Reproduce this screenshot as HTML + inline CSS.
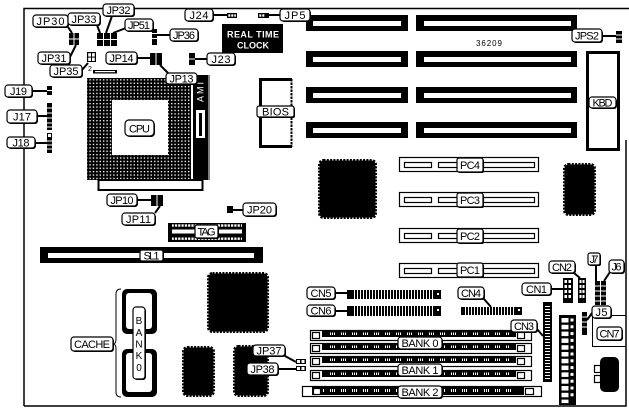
<!DOCTYPE html>
<html><head><meta charset="utf-8">
<style>
html,body{margin:0;padding:0;background:#fff;width:629px;height:409px;overflow:hidden}
svg{display:block}
text{font-family:"Liberation Sans",sans-serif}
.sh{fill:#000}
.lb{fill:#fff;stroke:#000;stroke-width:1.2}
.l{font-size:11px;text-anchor:middle;fill:#000}
.k{fill:#000}
.w{fill:#fff}
.ln{stroke:#000;stroke-width:2;fill:none}
.ol{fill:#fff;stroke:#000;stroke-width:1.2}
.chip{fill:#000;stroke:#000;stroke-width:3;stroke-dasharray:2 1.3}
</style></head><body>
<svg width="629" height="409" viewBox="0 0 629 409" xmlns="http://www.w3.org/2000/svg">
<defs>
<pattern id="pins" patternUnits="userSpaceOnUse" width="3.4" height="3.4"><rect x="1" y="1" width="1.4" height="1.3" fill="#fff"/></pattern>
<pattern id="vt" patternUnits="userSpaceOnUse" width="3" height="20"><rect x="0" y="0" width="1" height="20" fill="#fff"/></pattern>
<pattern id="ht" patternUnits="userSpaceOnUse" width="20" height="3"><rect x="0" y="0" width="20" height="1" fill="#fff"/></pattern>
<pattern id="wd" patternUnits="userSpaceOnUse" width="3.3" height="20"><rect x="0" y="0" width="2.2" height="20" fill="#fff"/></pattern>
<pattern id="sm" patternUnits="userSpaceOnUse" width="11" height="20"><rect x="0" y="0" width="1" height="20" fill="#fff"/><rect x="2" y="0" width="1" height="20" fill="#fff"/><rect x="4" y="0" width="1" height="20" fill="#fff"/></pattern>
</defs>

<!-- board outline -->
<path d="M24,406V8.5H629M626,140V406H24" fill="none" stroke="#000" stroke-width="1.5"/>

<!-- ISA slots -->
<g class="k">
<rect x="306" y="15" width="102" height="16"/><rect x="416" y="15" width="161" height="16"/>
<rect x="306" y="51" width="102" height="16"/><rect x="416" y="51" width="161" height="16"/>
<rect x="306" y="87" width="102" height="16"/><rect x="416" y="87" width="161" height="16"/>
<rect x="306" y="122" width="102" height="16"/><rect x="416" y="122" width="161" height="16"/>
</g>
<g class="w">
<rect x="313" y="21" width="88" height="5"/><rect x="424" y="21" width="147" height="5"/>
<rect x="313" y="57" width="88" height="5"/><rect x="424" y="57" width="147" height="5"/>
<rect x="313" y="93" width="88" height="5"/><rect x="424" y="93" width="147" height="5"/>
<rect x="313" y="128" width="88" height="5"/><rect x="424" y="128" width="147" height="5"/>
</g>
<text x="489" y="46" font-size="8" text-anchor="middle" textLength="26">36209</text>

<!-- KBD -->
<rect x="587.5" y="52.5" width="31" height="97" fill="none" stroke="#000" stroke-width="3"/>

<!-- Real time clock -->
<rect x="222" y="24" width="61" height="29" class="k"/>
<text x="253" y="37.5" font-size="9" font-weight="bold" fill="#fff" text-anchor="middle" textLength="52">REAL TIME</text>
<text x="253" y="48.5" font-size="9" font-weight="bold" fill="#fff" text-anchor="middle" textLength="32">CLOCK</text>

<!-- BIOS -->
<path d="M292,79.5H260.5V146.5H292" fill="none" stroke="#000" stroke-width="3"/>
<line x1="291.5" y1="79" x2="291.5" y2="147" stroke="#000" stroke-width="2" stroke-dasharray="2.5 1"/>

<!-- CPU socket -->
<rect x="93" y="70" width="24" height="3.5" class="k"/>
<rect x="95" y="71" width="20" height="1.2" class="w"/>
<rect x="87" y="78" width="104" height="102" class="k"/>
<rect x="87" y="78" width="104" height="102" fill="url(#pins)"/>
<rect x="112" y="100" width="56" height="55" class="w"/>
<rect x="98.5" y="180" width="104" height="10" fill="#fff" stroke="#000" stroke-width="2"/>
<rect x="193" y="75" width="15" height="105" class="k"/>
<line x1="209" y1="75" x2="209" y2="180" stroke="#000" stroke-width="1"/>
<text transform="translate(203.5,92) rotate(-90)" font-size="9" fill="#fff" text-anchor="middle" textLength="20">AMI</text>
<rect x="196" y="110" width="9" height="28" class="w"/>
<rect x="199" y="113" width="3" height="23" class="k"/>
<text x="88" y="71" font-size="7">2</text>

<!-- jumpers top-left -->
<rect x="69" y="33" width="10" height="12" class="k"/>
<path d="M74,33V45M69,39H79" stroke="#fff" stroke-width="1"/>
<rect x="97" y="33" width="20" height="13" class="k"/>
<path d="M103.5,33V46M110.5,33V46M97,39.5H117" stroke="#fff" stroke-width="1"/>
<rect x="152" y="29" width="5" height="16" class="k"/>
<path d="M152,33.5H157M152,38.5H157" stroke="#fff" stroke-width="1"/>
<rect x="87" y="52" width="9" height="10" class="k"/>
<g class="w"><rect x="88.2" y="53.2" width="2.8" height="3.4"/><rect x="92" y="53.2" width="2.8" height="3.4"/><rect x="88.2" y="57.6" width="2.8" height="3.4"/><rect x="92" y="57.6" width="2.8" height="3.4"/></g>
<rect x="150" y="53" width="12" height="12" class="k"/>
<line x1="156" y1="53" x2="156" y2="65" stroke="#fff" stroke-width="1"/>
<rect x="189" y="53" width="6" height="12" class="k"/>
<line x1="189" y1="59" x2="195" y2="59" stroke="#fff" stroke-width="1"/>
<rect x="227" y="13" width="10" height="5" class="k"/>
<g class="w"><rect x="228.3" y="14.3" width="2" height="2.4"/><rect x="231.3" y="14.3" width="2" height="2.4"/><rect x="234.3" y="14.3" width="1.6" height="2.4"/></g>
<rect x="258" y="13" width="11" height="5" class="k"/>
<g class="w"><rect x="259.3" y="14.3" width="2" height="2.4"/><rect x="262.3" y="14.3" width="2" height="2.4"/></g>
<rect x="616" y="31" width="6" height="12" class="k"/>
<path d="M616,35H622M616,39H622" stroke="#fff" stroke-width="1"/>
<rect x="47" y="86" width="5" height="9" class="k"/>
<line x1="47" y1="90.5" x2="52" y2="90.5" stroke="#fff" stroke-width="1"/>
<rect x="47" y="103" width="5" height="27" class="k"/>
<path d="M47,108H52M47,113H52M47,118H52M47,123H52M47,127H52" stroke="#fff" stroke-width="1"/>
<rect x="47" y="133" width="5" height="20" class="k"/>
<rect x="48" y="134" width="3" height="3" class="w"/>
<path d="M47,141H52M47,145H52M47,149H52" stroke="#fff" stroke-width="1"/>
<rect x="151" y="195" width="12" height="11" class="k"/>
<line x1="157" y1="195" x2="157" y2="206" stroke="#fff" stroke-width="1"/>
<rect x="227" y="206" width="6" height="7" class="k"/>
<rect x="296" y="359" width="10" height="5" class="k"/>
<rect x="296" y="366" width="10" height="5" class="k"/>
<g class="w"><rect x="297" y="360" width="3" height="3"/><rect x="301.5" y="360" width="3" height="3"/><rect x="297" y="367" width="3" height="3"/><rect x="301.5" y="367" width="3" height="3"/></g>

<!-- TAG -->
<rect x="168" y="223" width="78" height="19" class="k"/>
<rect x="172" y="224.3" width="70" height="2.4" fill="url(#wd)"/>
<rect x="172" y="237.5" width="70" height="2.4" fill="url(#wd)"/>
<rect x="172" y="229.5" width="70" height="4" class="w"/>

<!-- SL1 -->
<rect x="40" y="247" width="223" height="16" class="k"/>
<rect x="48" y="253" width="206" height="5" class="w"/>

<!-- big chips -->
<rect class="chip" x="319.5" y="160.5" width="56" height="57" rx="4"/>
<rect class="chip" x="564.5" y="164.5" width="30" height="50" rx="4"/>
<rect class="chip" x="208.5" y="273.5" width="59" height="58" rx="4"/>
<rect class="chip" x="183.5" y="347.5" width="30" height="48" rx="4"/>
<rect class="chip" x="234.5" y="346.5" width="33" height="49" rx="4"/>

<!-- PCI slots -->
<g>
<rect class="ol" x="399.5" y="157.5" width="139" height="14"/>
<rect class="ol" x="404.5" y="162.5" width="27" height="5"/><rect class="ol" x="438.5" y="162.5" width="19" height="5"/><rect class="ol" x="483.5" y="162.5" width="51" height="5"/>
<rect class="ol" x="399.5" y="192.5" width="139" height="14"/>
<rect class="ol" x="404.5" y="197.5" width="27" height="5"/><rect class="ol" x="438.5" y="197.5" width="19" height="5"/><rect class="ol" x="483.5" y="197.5" width="51" height="5"/>
<rect class="ol" x="399.5" y="228.5" width="139" height="14"/>
<rect class="ol" x="404.5" y="233.5" width="27" height="5"/><rect class="ol" x="438.5" y="233.5" width="19" height="5"/><rect class="ol" x="483.5" y="233.5" width="51" height="5"/>
<rect class="ol" x="399.5" y="263.5" width="139" height="14"/>
<rect class="ol" x="404.5" y="268.5" width="27" height="5"/><rect class="ol" x="438.5" y="268.5" width="19" height="5"/><rect class="ol" x="483.5" y="268.5" width="51" height="5"/>
</g>

<!-- cache -->
<rect x="122" y="289" width="35" height="45" rx="5" class="k"/>
<rect x="126" y="293" width="26" height="36" rx="3" class="w"/>
<rect x="122" y="349" width="35" height="48" rx="5" class="k"/>
<rect x="126" y="353" width="26" height="39" rx="3" class="w"/>
<path d="M121,289Q116,289 116,294V339Q116,344 113,344Q116,344 116,349V392Q116,397 121,397" fill="none" stroke="#000" stroke-width="1"/>
<rect x="134" y="308" width="12" height="72" rx="3" class="sh"/>
<rect x="133" y="307" width="12" height="72" rx="3" class="lb"/>
<g font-size="10" text-anchor="middle">
<text x="139" y="324">B</text><text x="139" y="336">A</text><text x="139" y="347.5">N</text><text x="139" y="359">K</text><text x="139" y="371">0</text>
</g>

<!-- CN5 / CN6 / CN4 -->
<rect x="347" y="290" width="94" height="9" class="k"/>
<rect x="354" y="290" width="80" height="9" fill="url(#vt)"/>
<rect x="437" y="293" width="2" height="2" class="w"/>
<rect x="347" y="306" width="94" height="10" class="k"/>
<rect x="354" y="306" width="80" height="10" fill="url(#vt)"/>
<rect x="437" y="309" width="2" height="2" class="w"/>
<rect x="461" y="307" width="61" height="8" class="k"/>
<rect x="464" y="307" width="50" height="8" fill="url(#vt)"/>
<rect x="518" y="309" width="2" height="2" class="w"/>

<!-- SIMM banks -->
<g>
<rect class="ol" x="310.5" y="330.5" width="221" height="10"/>
<rect x="322" y="331" width="194" height="6" class="k"/>
<rect x="330" y="332.5" width="180" height="2.5" fill="url(#sm)"/>
<rect class="ol" x="312.5" y="332.5" width="7" height="6"/><rect class="ol" x="517.5" y="332.5" width="7" height="6"/>
<rect class="ol" x="310.5" y="343.5" width="221" height="10"/>
<rect x="322" y="344" width="194" height="6" class="k"/>
<rect x="330" y="345.5" width="180" height="2.5" fill="url(#sm)"/>
<rect class="ol" x="312.5" y="345.5" width="7" height="6"/><rect class="ol" x="517.5" y="345.5" width="7" height="6"/>
<rect class="ol" x="310.5" y="356.5" width="221" height="10"/>
<rect x="322" y="357" width="194" height="6" class="k"/>
<rect x="330" y="358.5" width="180" height="2.5" fill="url(#sm)"/>
<rect class="ol" x="312.5" y="358.5" width="7" height="6"/><rect class="ol" x="517.5" y="358.5" width="7" height="6"/>
<rect class="ol" x="310.5" y="370.5" width="221" height="10"/>
<rect x="322" y="371" width="194" height="6" class="k"/>
<rect x="330" y="372.5" width="180" height="2.5" fill="url(#sm)"/>
<rect class="ol" x="312.5" y="372.5" width="7" height="6"/><rect class="ol" x="517.5" y="372.5" width="7" height="6"/>
<rect class="ol" x="302.5" y="386.5" width="239" height="10"/>
<rect x="312" y="387" width="212" height="8" class="k"/>
<rect x="322" y="389" width="190" height="3" fill="url(#sm)"/>
<rect class="ol" x="313.5" y="388.5" width="7" height="6"/><rect class="ol" x="525.5" y="388.5" width="8" height="6"/>
</g>

<!-- CN3 & vertical connector -->
<rect x="543" y="302" width="9" height="80" class="k"/>
<rect x="545" y="305" width="5" height="75" fill="url(#ht)"/>
<rect x="559" y="315" width="17" height="90" class="k"/>
<g class="w">
<rect x="561.5" y="318" width="7" height="4.5"/><rect x="570.5" y="318.5" width="3" height="3"/>
<rect x="561.5" y="324.8" width="7" height="4.5"/><rect x="570.5" y="325.3" width="3" height="3"/>
<rect x="561.5" y="331.6" width="7" height="4.5"/><rect x="570.5" y="332.1" width="3" height="3"/>
<rect x="561.5" y="338.4" width="7" height="4.5"/><rect x="570.5" y="338.9" width="3" height="3"/>
<rect x="561.5" y="345.2" width="7" height="4.5"/><rect x="570.5" y="345.7" width="3" height="3"/>
<rect x="561.5" y="352" width="7" height="4.5"/><rect x="570.5" y="352.5" width="3" height="3"/>
<rect x="561.5" y="358.8" width="7" height="4.5"/><rect x="570.5" y="359.3" width="3" height="3"/>
<rect x="561.5" y="365.6" width="7" height="4.5"/><rect x="570.5" y="366.1" width="3" height="3"/>
<rect x="561.5" y="372.4" width="7" height="4.5"/><rect x="570.5" y="372.9" width="3" height="3"/>
<rect x="561.5" y="379.2" width="7" height="4.5"/><rect x="570.5" y="379.7" width="3" height="3"/>
<rect x="561.5" y="386" width="7" height="4.5"/><rect x="570.5" y="386.5" width="3" height="3"/>
<rect x="561.5" y="392.8" width="7" height="4.5"/><rect x="570.5" y="393.3" width="3" height="3"/>
<rect x="561.5" y="399.6" width="7" height="3.5"/>
</g>

<!-- CN1 CN2 J7 J6 J5 -->
<rect x="563" y="278" width="10" height="25" class="k"/>
<rect x="578" y="278" width="8" height="25" class="k"/>
<g class="w">
<rect x="564.5" y="280" width="2.5" height="3"/><rect x="568.5" y="280" width="2.5" height="3"/>
<rect x="564.5" y="285" width="2.5" height="3"/><rect x="568.5" y="285" width="2.5" height="3"/>
<rect x="564.5" y="290" width="2.5" height="3"/><rect x="568.5" y="290" width="2.5" height="3"/>
<rect x="564.5" y="295" width="2.5" height="3"/><rect x="568.5" y="295" width="2.5" height="3"/>
<rect x="579.5" y="280" width="2" height="3"/><rect x="582.5" y="280" width="2" height="3"/>
<rect x="579.5" y="285" width="2" height="3"/><rect x="582.5" y="285" width="2" height="3"/>
<rect x="579.5" y="290" width="2" height="3"/><rect x="582.5" y="290" width="2" height="3"/>
<rect x="579.5" y="295" width="2" height="3"/><rect x="582.5" y="295" width="2" height="3"/>
</g>
<rect x="595" y="281" width="5" height="24" class="k"/>
<rect x="601" y="281" width="5" height="24" class="k"/>
<path d="M595,286H606M595,291H606M595,296H606M595,301H606" stroke="#fff" stroke-width="1"/>
<rect x="582" y="312" width="5" height="23" class="k"/>
<path d="M582,317H587M582,322H587M582,327H587" stroke="#fff" stroke-width="1"/>

<!-- CN7 area / DIN -->
<path d="M626,315.5H592.5V346.5H626" fill="none" stroke="#000" stroke-width="1"/>
<rect x="600" y="357" width="19" height="35" rx="5" class="k"/>
<rect class="ol" x="594.5" y="365.5" width="6" height="7"/>
<rect class="ol" x="594.5" y="375.5" width="6" height="7"/>

<!-- pointer lines -->
<path class="ln" d="M68,27L72,33M97,25L100,33M112,16L106,33M126,28L113,33M170,35H157M70,57L76,45M82,70L88,63M137,58H150M160,65L168,73M195,59H207M213,15H227M269,15H280M602,36H616M32,91H47M37,116H47M35,143H47M137,200H151M160,206L155,213M233,210H243M335,293H347M335,311H347M484,299L491,307M537,329L543,336M574,273L580,278M551,289H563M596,265V281M610,272L604,281M592,313L587,320M285,356L296,362M278,369H296"/>

<!-- labels -->
<g>
<rect class="sh" x="34" y="16" width="35" height="12" rx="3"/><rect class="lb" x="33" y="15" width="35" height="12" rx="3"/><text class="l" x="50.5" y="25" textLength="28">JP30</text>
<rect class="sh" x="69" y="14" width="32" height="12" rx="3"/><rect class="lb" x="68" y="13" width="32" height="12" rx="3"/><text class="l" x="84" y="23" textLength="25">JP33</text>
<rect class="sh" x="104" y="5" width="31" height="12" rx="3"/><rect class="lb" x="103" y="4" width="31" height="12" rx="3"/><text class="l" x="118.5" y="14" textLength="24">JP32</text>
<rect class="sh" x="126" y="20" width="28" height="12" rx="3"/><rect class="lb" x="125" y="19" width="28" height="12" rx="3"/><text class="l" x="139" y="29" textLength="22">JP51</text>
<rect class="sh" x="171" y="30" width="28" height="12" rx="3"/><rect class="lb" x="170" y="29" width="28" height="12" rx="3"/><text class="l" x="184" y="39" textLength="22">JP36</text>
<rect class="sh" x="39" y="53" width="32" height="12" rx="3"/><rect class="lb" x="38" y="52" width="32" height="12" rx="3"/><text class="l" x="54" y="62" textLength="25">JP31</text>
<rect class="sh" x="51" y="66" width="32" height="12" rx="3"/><rect class="lb" x="50" y="65" width="32" height="12" rx="3"/><text class="l" x="66" y="75" textLength="25">JP35</text>
<rect class="sh" x="107" y="53" width="31" height="12" rx="3"/><rect class="lb" x="106" y="52" width="31" height="12" rx="3"/><text class="l" x="121.5" y="62" textLength="24">JP14</text>
<rect class="sh" x="167" y="74" width="31" height="11" rx="3"/><rect class="lb" x="166" y="73" width="31" height="11" rx="3"/><text class="l" x="181.5" y="82.5" textLength="24">JP13</text>
<rect class="sh" x="208" y="54" width="28" height="12" rx="3"/><rect class="lb" x="207" y="53" width="28" height="12" rx="3"/><text class="l" x="221" y="63" textLength="19">J23</text>
<rect class="sh" x="186" y="10" width="28" height="12" rx="3"/><rect class="lb" x="185" y="9" width="28" height="12" rx="3"/><text class="l" x="199" y="19" textLength="19">J24</text>
<rect class="sh" x="281" y="10" width="30" height="12" rx="3"/><rect class="lb" x="280" y="9" width="30" height="12" rx="3"/><text class="l" x="295" y="19" textLength="21">JP5</text>
<rect class="sh" x="573" y="30" width="30" height="13" rx="3"/><rect class="lb" x="572" y="29" width="30" height="13" rx="3"/><text class="l" x="587" y="39.5" textLength="24">JPS2</text>
<rect class="sh" x="590" y="98" width="27" height="11" rx="3"/><rect class="lb" x="589" y="97" width="27" height="11" rx="3"/><text class="l" x="602.5" y="106.5" textLength="20">KBD</text>
<rect class="sh" x="126" y="121" width="29" height="16" rx="4"/><rect class="lb" x="125" y="120" width="29" height="16" rx="4"/><text class="l" x="139.5" y="132.5" font-size="12" textLength="21">CPU</text>
<rect class="sh" x="258" y="107" width="37" height="11" rx="2"/><rect class="lb" x="257" y="106" width="37" height="11" rx="2"/><text class="l" x="275.5" y="115.5" textLength="27">BIOS</text>
<rect class="sh" x="6" y="86" width="27" height="12" rx="3"/><rect class="lb" x="5" y="85" width="27" height="12" rx="3"/><text class="l" x="18.5" y="95" textLength="17">J19</text>
<rect class="sh" x="8" y="111" width="30" height="13" rx="3"/><rect class="lb" x="7" y="110" width="30" height="13" rx="3"/><text class="l" x="22" y="120.5" textLength="18">J17</text>
<rect class="sh" x="8" y="138" width="28" height="11" rx="3"/><rect class="lb" x="7" y="137" width="28" height="11" rx="3"/><text class="l" x="21" y="146.5" textLength="17">J18</text>
<rect class="sh" x="108" y="195" width="30" height="12" rx="3"/><rect class="lb" x="107" y="194" width="30" height="12" rx="3"/><text class="l" x="122" y="204" textLength="23">JP10</text>
<rect class="sh" x="123" y="214" width="33" height="12" rx="3"/><rect class="lb" x="122" y="213" width="33" height="12" rx="3"/><text class="l" x="138.5" y="223" textLength="25">JP11</text>
<rect class="sh" x="196" y="226" width="23" height="13" rx="2"/><rect class="lb" x="195" y="225" width="23" height="13" rx="2"/><text class="l" x="206.5" y="235.5" textLength="18">TAG</text>
<rect class="sh" x="244" y="204" width="33" height="13" rx="3"/><rect class="lb" x="243" y="203" width="33" height="13" rx="3"/><text class="l" x="259.5" y="213.5" textLength="25">JP20</text>
<rect class="sh" x="141" y="251" width="23" height="11" rx="2"/><rect class="lb" x="140" y="250" width="23" height="11" rx="2"/><text class="l" x="151.5" y="259.5" textLength="16">SL1</text>
<rect class="sh" x="72" y="338" width="42" height="14" rx="3"/><rect class="lb" x="71" y="337" width="42" height="14" rx="3"/><text class="l" x="92" y="348" textLength="36">CACHE</text>
<rect class="sh" x="308" y="288" width="28" height="12" rx="3"/><rect class="lb" x="307" y="287" width="28" height="12" rx="3"/><text class="l" x="321" y="297" textLength="21">CN5</text>
<rect class="sh" x="308" y="306" width="28" height="11" rx="3"/><rect class="lb" x="307" y="305" width="28" height="11" rx="3"/><text class="l" x="321" y="314.5" textLength="21">CN6</text>
<rect class="sh" x="459" y="288" width="26" height="12" rx="3"/><rect class="lb" x="458" y="287" width="26" height="12" rx="3"/><text class="l" x="471" y="297" textLength="20">CN4</text>
<rect class="sh" x="512" y="321" width="26" height="12" rx="3"/><rect class="lb" x="511" y="320" width="26" height="12" rx="3"/><text class="l" x="524" y="330" textLength="20">CN3</text>
<rect class="sh" x="550" y="262" width="26" height="12" rx="3"/><rect class="lb" x="549" y="261" width="26" height="12" rx="3"/><text class="l" x="562" y="271" textLength="20">CN2</text>
<rect class="sh" x="523" y="284" width="29" height="12" rx="3"/><rect class="lb" x="522" y="283" width="29" height="12" rx="3"/><text class="l" x="536.5" y="293" textLength="21">CN1</text>
<rect class="sh" x="589" y="254" width="12" height="12" rx="2"/><rect class="lb" x="588" y="253" width="12" height="12" rx="2"/><text class="l" x="594" y="263" font-size="10" textLength="9">J7</text>
<rect class="sh" x="610" y="261" width="15" height="13" rx="3"/><rect class="lb" x="609" y="260" width="15" height="13" rx="3"/><text class="l" x="616.5" y="270.5" font-size="10" textLength="10">J6</text>
<rect class="sh" x="593" y="307" width="19" height="12" rx="3"/><rect class="lb" x="592" y="306" width="19" height="12" rx="3"/><text class="l" x="601.5" y="316" textLength="12">J5</text>
<rect class="sh" x="598" y="328" width="25" height="13" rx="3"/><rect class="lb" x="597" y="327" width="25" height="13" rx="3"/><text class="l" x="609.5" y="337.5" textLength="20">CN7</text>
<rect class="sh" x="399" y="338" width="44" height="12" rx="3"/><rect class="lb" x="398" y="337" width="44" height="12" rx="3"/><text class="l" x="420" y="347" textLength="37">BANK 0</text>
<rect class="sh" x="399" y="365" width="44" height="12" rx="3"/><rect class="lb" x="398" y="364" width="44" height="12" rx="3"/><text class="l" x="420" y="374" textLength="37">BANK 1</text>
<rect class="sh" x="399" y="387" width="44" height="12" rx="3"/><rect class="lb" x="398" y="386" width="44" height="12" rx="3"/><text class="l" x="420" y="396" textLength="37">BANK 2</text>
<rect class="sh" x="458" y="159" width="26" height="14" rx="2"/><rect class="lb" x="457" y="158" width="26" height="14" rx="2"/><text class="l" x="470" y="169" textLength="20">PC4</text>
<rect class="sh" x="458" y="194" width="26" height="14" rx="2"/><rect class="lb" x="457" y="193" width="26" height="14" rx="2"/><text class="l" x="470" y="204" textLength="20">PC3</text>
<rect class="sh" x="458" y="230" width="26" height="14" rx="2"/><rect class="lb" x="457" y="229" width="26" height="14" rx="2"/><text class="l" x="470" y="240" textLength="20">PC2</text>
<rect class="sh" x="458" y="264" width="26" height="14" rx="2"/><rect class="lb" x="457" y="263" width="26" height="14" rx="2"/><text class="l" x="470" y="274" textLength="20">PC1</text>
<rect class="sh" x="254" y="346" width="32" height="11" rx="3"/><rect class="lb" x="253" y="345" width="32" height="11" rx="3"/><text class="l" x="269" y="354.5" textLength="25">JP37</text>
<rect class="sh" x="248" y="364" width="31" height="12" rx="3"/><rect class="lb" x="247" y="363" width="31" height="12" rx="3"/><text class="l" x="262.5" y="373" textLength="24">JP38</text>
</g>
</svg>
</body></html>
